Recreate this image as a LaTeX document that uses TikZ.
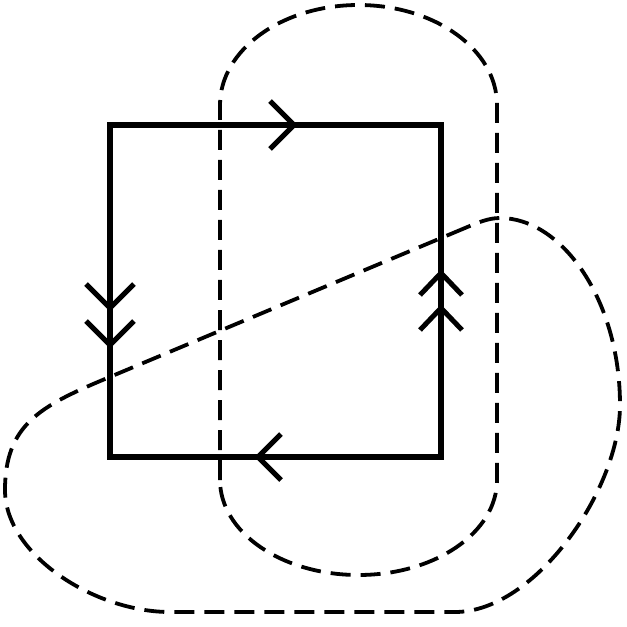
\documentclass[tikz,border=0pt]{standalone}
\usepackage{tikz}
\usetikzlibrary{calc}

\begin{document}
\begin{tikzpicture}[x=0.25mm, y=-0.25mm,
    square/.style={line width=1.3mm, line join=miter},
    chev/.style={line width=1.25mm, line join=miter},
    dashloop/.style={line width=0.95mm, dash pattern=on 5mm off 2.5mm}]
    \useasboundingbox (0,0) rectangle (627,627);
    % corners of the square
    \coordinate (tl) at (110,125);
    \coordinate (tr) at (441,125);
    \coordinate (br) at (441,457);
    \coordinate (bl) at (110,457);
    % upright loop
    \draw[dashloop] (220,480) -- (220,105)
      .. controls (220,49.8) and (282,5) .. (358.5,5)
      .. controls (435,5) and (497,49.8) .. (497,105)
      -- (497,480)
      .. controls (497,532.5) and (435,575) .. (358.5,575)
      .. controls (282,575) and (220,532.5) .. (220,480);
    % slanted loop
    \draw[dashloop] (465,228) -- (105,379)
      .. controls (40.5,406) and (5,425) .. (5,490)
      .. controls (5,555) and (95,612) .. (170,612)
      -- (455,612)
      .. controls (535,612) and (620,490) .. (620,405)
      .. controls (620,300) and (562,218) .. (500,218)
      .. controls (488,218) and (477,223) .. (465,228);
    % the square and its arrows
    \draw[square] (tl) -- (tr) -- (br) -- (bl) -- cycle;
    \draw[chev] (270,101) -- (294,125) -- (270,149);
    \draw[chev] (281,434) -- (258,457) -- (281,480);
    \draw[chev] (86,284) -- (110,308) -- (134,284);
    \draw[chev] (86,321) -- (110,345) -- (134,321);
    \draw[chev] (420,295) -- (441,273) -- (462,295);
    \draw[chev] (420,330) -- (441,308) -- (462,330);
  \end{tikzpicture}
\end{document}
